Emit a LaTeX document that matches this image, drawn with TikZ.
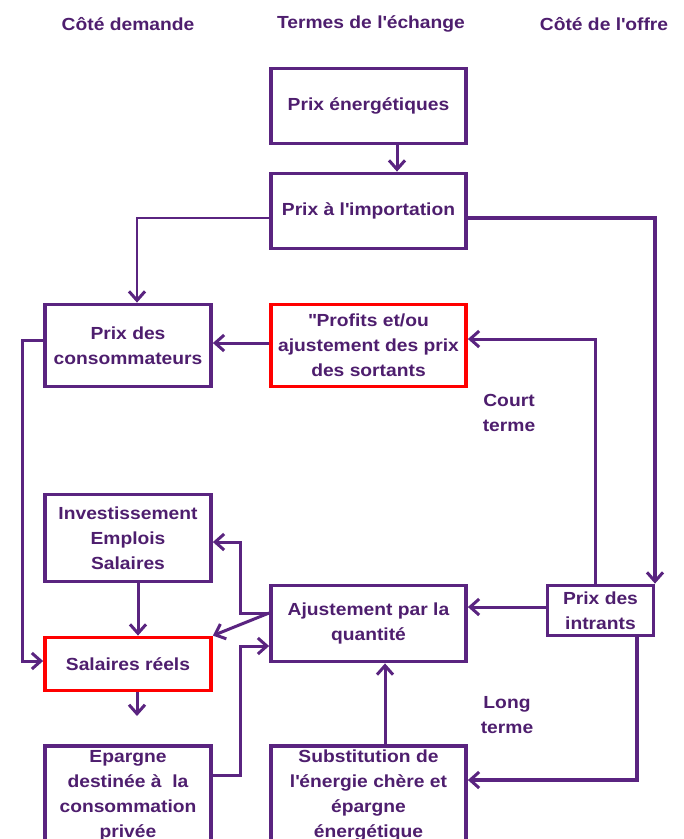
\documentclass[tikz,border=0pt]{standalone}
\usepackage{fontspec}
\setmainfont{Liberation Sans}[FakeStretch=1.1]
\usetikzlibrary{arrows.meta}
\definecolor{pur}{RGB}{90,36,128}
\definecolor{purtxt}{RGB}{78,30,110}
\definecolor{redb}{RGB}{255,0,0}
\newcommand{\aps}{\textquotesingle}
\tikzset{
  box/.style={draw=pur, line width=3.8pt, fill=white, inner sep=0pt, align=center,
    text=purtxt, font=\fontsize{17.5pt}{25pt}\selectfont\bfseries},
  redbox/.style={box, draw=redb},
  lab/.style={text=purtxt, align=center, inner sep=0pt, font=\fontsize{17.5pt}{25pt}\selectfont\bfseries},
  arr/.style={draw=pur, line width=3pt, -{Straight Barb[length=9pt,width=16pt,line width=3pt]}},
  ln/.style={draw=pur, line width=3pt}
}
\begin{document}
\begin{tikzpicture}[x=1pt,y=-1pt]
\useasboundingbox (0,0) rectangle (684,839);
\clip (0,0) rectangle (684,839);
\fill[white] (0,0) rectangle (684,839);
% headings
\node[lab] (h1) at (128,24) {Côté demande};
\node[lab] (h2) at (371,24) {Termes de l\aps échange};
\node[lab] (h3) at (604,24) {Côté de l\aps offre};
% boxes
\node[box, minimum width=195pt, minimum height=75pt] (energ) at (368.5,106) {Prix énergétiques};
\node[box, minimum width=195pt, minimum height=75pt] (import) at (368.5,211) {Prix à l\aps importation};
\node[box, minimum width=166pt, minimum height=82pt] (conso) at (128,345.5) {Prix des\\consommateurs};
\node[redbox, minimum width=195pt, minimum height=82pt] (profits) at (368.5,345.5) {\textquotedbl Profits et/ou\\ajustement des prix\\des sortants};
\node[box, minimum width=166pt, minimum height=87pt] (invest) at (128,538) {Investissement\\Emplois\\Salaires};
\node[redbox, minimum width=166pt, minimum height=53pt] (salaires) at (128,664) {Salaires réels};
\node[box, minimum width=195pt, minimum height=76pt] (ajust) at (368.5,623.5) {Ajustement par la\\quantité};
\node[box, minimum width=106pt, minimum height=50pt] (intrants) at (600.5,610.5) {Prix des\\intrants};
\node[box, minimum width=166pt, minimum height=100pt] (epargne) at (128,796) {Epargne\\destinée à\ \ la\\consommation\\privée};
\node[box, minimum width=195pt, minimum height=100pt] (subst) at (368.5,796) {Substitution de\\l\aps énergie chère et\\épargne\\énergétique};
% labels
\node[lab] (court) at (509,412.5) {Court\\terme};
\node[lab] (long) at (507,715.5) {Long\\terme};
% routing coordinates
\coordinate (xa) at (397,0);
\coordinate (ya) at (0,218);
\coordinate (xb) at (137,0);
\coordinate (xc) at (655,0);
\coordinate (xd) at (595,0);
\coordinate (yd) at (0,339);
\coordinate (ye) at (0,343);
\coordinate (L1) at (22,340);
\coordinate (L2) at (22,661);
\coordinate (xf) at (138,0);
\coordinate (sEnd) at (137,716);
\coordinate (yg) at (0,607);
\coordinate (q1) at (240,613);
\coordinate (q2) at (240,542);
\coordinate (q3) at (240,775);
\coordinate (q4) at (240,646);
\coordinate (q5) at (385,0);
\coordinate (q6) at (637,780);
% connectors
\draw[arr] (energ.south -| xa) -- (import.north -| xa);
\draw[arr, line width=2.4pt] (import.west |- ya) -| (conso.north -| xb);
\draw[arr, line width=3.4pt] (import.east |- ya) -| (intrants.north -| xc);
\draw[arr] (profits.west |- ye) -- (conso.east |- ye);
\draw[arr] (intrants.north -| xd) |- (profits.east |- yd);
\draw[arr] (conso.west |- L1) -- (L1) -- (L2) -- (salaires.west |- L2);
\draw[arr] (invest.south -| xf) -- (salaires.north -| xf);
\draw[arr] (salaires.south -| sEnd) -- (sEnd);
\draw[arr] (intrants.west |- yg) -- (ajust.east |- yg);
\draw[arr] (ajust.west |- q1) -- (q1) -- (q2) -- (invest.east |- q2);
\draw[arr] (ajust.west |- q1) -- (salaires.north east);
\draw[arr] (epargne.east |- q3) -- (q3) -- (q4) -- (ajust.west |- q4);
\draw[arr] (subst.north -| q5) -- (ajust.south -| q5);
\draw[arr, line width=3.4pt] (intrants.south -| q6) -- (q6) -- (subst.east |- q6);
\end{tikzpicture}
\end{document}
